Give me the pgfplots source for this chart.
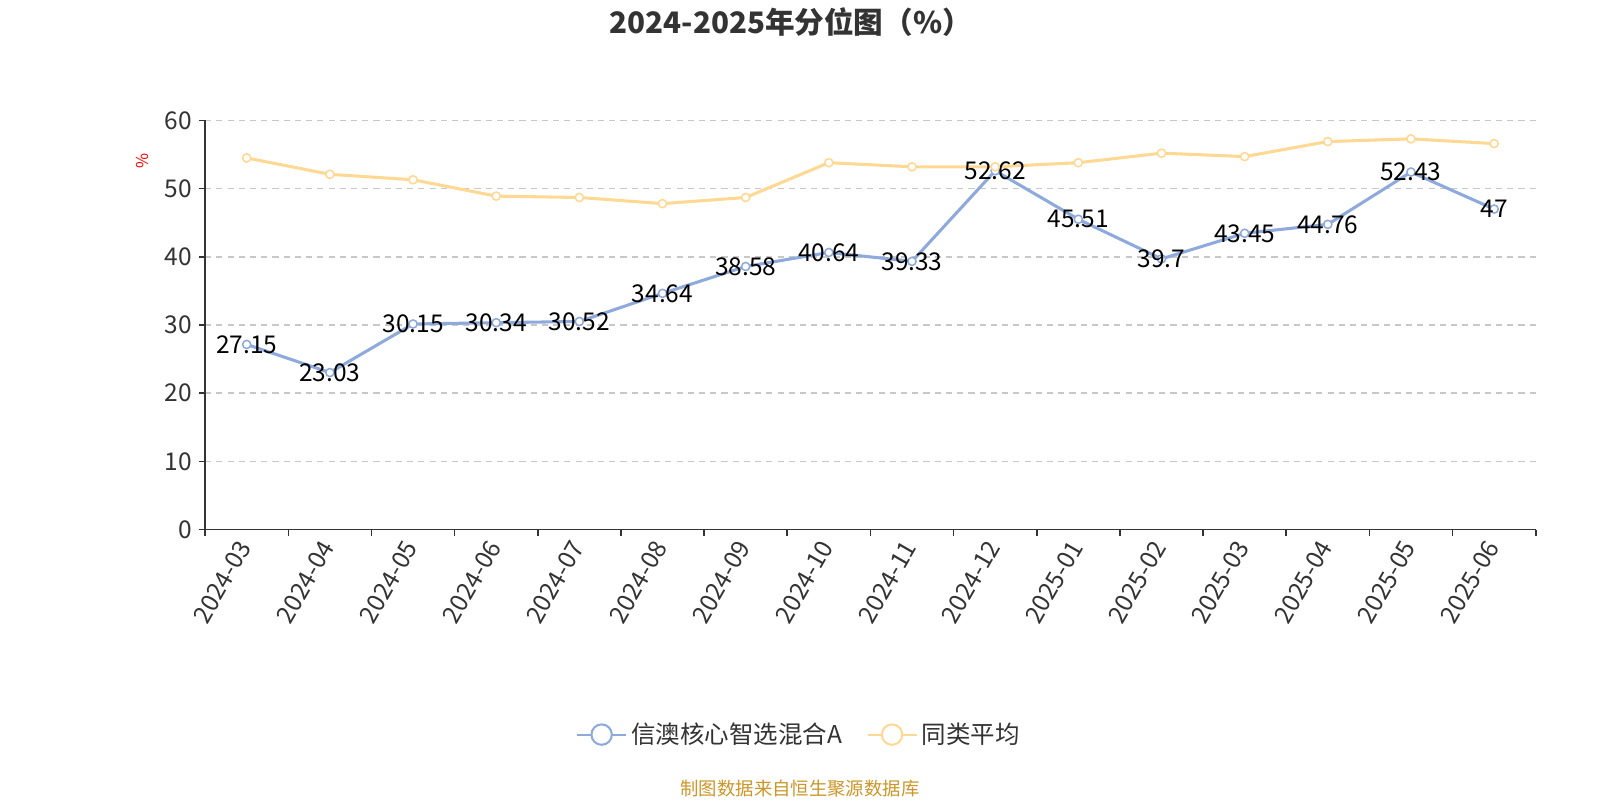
\documentclass[border=0pt]{standalone}
\usepackage{fontspec}
\setmainfont{Noto Sans CJK SC}
\usepackage{pgfplots}
\pgfplotsset{compat=1.18}
\usepackage{pgfplotstable}

\definecolor{fundblue}{RGB}{142,170,220}
\definecolor{avgyellow}{RGB}{255,217,148}
\definecolor{txtgray}{RGB}{51,51,51}
\definecolor{gridgray}{RGB}{200,200,200}
\definecolor{srcgold}{RGB}{204,150,40}

% 信澳核心智选混合A
\pgfplotstableread{
x y lbl
0 27.15 27.15
1 23.03 23.03
2 30.15 30.15
3 30.34 30.34
4 30.52 30.52
5 34.64 34.64
6 38.58 38.58
7 40.64 40.64
8 39.33 39.33
9 52.62 52.62
10 45.51 45.51
11 39.70 39.7
12 43.45 43.45
13 44.76 44.76
14 52.43 52.43
15 47.00 47
}\fund

% 同类平均
\pgfplotstableread{
x y
0 54.5
1 52.1
2 51.3
3 48.9
4 48.7
5 47.8
6 48.7
7 53.8
8 53.2
9 53.2
10 53.8
11 55.2
12 54.7
13 56.9
14 57.3
15 56.6
}\peer

\begin{document}
\begin{tikzpicture}
\useasboundingbox (0,0) rectangle (784pt,392pt);
\node[font=\bfseries\fontsize{14.5}{17}\selectfont, text=txtgray] at (387.5pt,381pt) {2024-2025年分位图（\%）};
\node[rotate=90, text=red, font=\fontsize{8}{10}\selectfont] at (70pt,313pt) {\%};
\node[text=srcgold, font=\fontsize{9}{11}\selectfont] at (392pt,5.5pt) {制图数据来自恒生聚源数据库};
\begin{axis}[
    at={(100.5pt,132.5pt)}, anchor=south west,
    scale only axis, width=652pt, height=200.5pt,
    xmin=-0.5, xmax=15.5, ymin=0, ymax=60,
    axis x line*=bottom, axis y line*=left,
    axis line style={-, draw=txtgray, line width=0.75pt},
    xtick={-0.5,0.5,...,15.5},
    x tick label as interval,
    xticklabels={2024-03,2024-04,2024-05,2024-06,2024-07,2024-08,2024-09,2024-10,2024-11,2024-12,2025-01,2025-02,2025-03,2025-04,2025-05,2025-06},
    xticklabel style={rotate=60, anchor=east, yshift=-1pt},
    ytick={0,10,...,60},
    ymajorgrids,
    grid style={gridgray, line width=0.7pt, dash pattern=on 3pt off 2.5pt},
    tick align=outside, major tick length=3pt,
    tick style={draw=txtgray, line width=0.75pt},
    ticklabel style={font=\fontsize{12}{14}\selectfont, text=txtgray},
    /pgf/number format/assume math mode=true,
    legend columns=2,
    legend style={at={(0.447,-0.501)}, anchor=center, draw=none,
        font=\fontsize{12}{14}\selectfont, text=txtgray,
        /tikz/every even column/.append style={column sep=10pt}},
    legend image code/.code={
        \draw[line width=1pt] (0pt,0pt) -- (24pt,0pt);
        \draw[line width=1pt, fill=white] (12pt,0pt) circle (5pt);
    },
]
\addplot[fundblue, line width=1.5pt, mark=*, mark size=2pt,
    mark options={fill=white, draw=fundblue, line width=0.75pt},
    point meta=explicit symbolic, nodes near coords,
    nodes near coords align={center},
    every node near coord/.append style={font=\fontsize{12}{14}\selectfont, text=black}]
    table[x=x, y=y, meta=lbl] {\fund};
\addlegendentry{信澳核心智选混合A}
\addplot[avgyellow, line width=1.5pt, mark=*, mark size=2pt,
    mark options={fill=white, draw=avgyellow, line width=0.75pt}]
    table[x=x, y=y] {\peer};
\addlegendentry{同类平均}
\end{axis}
\end{tikzpicture}
\end{document}
